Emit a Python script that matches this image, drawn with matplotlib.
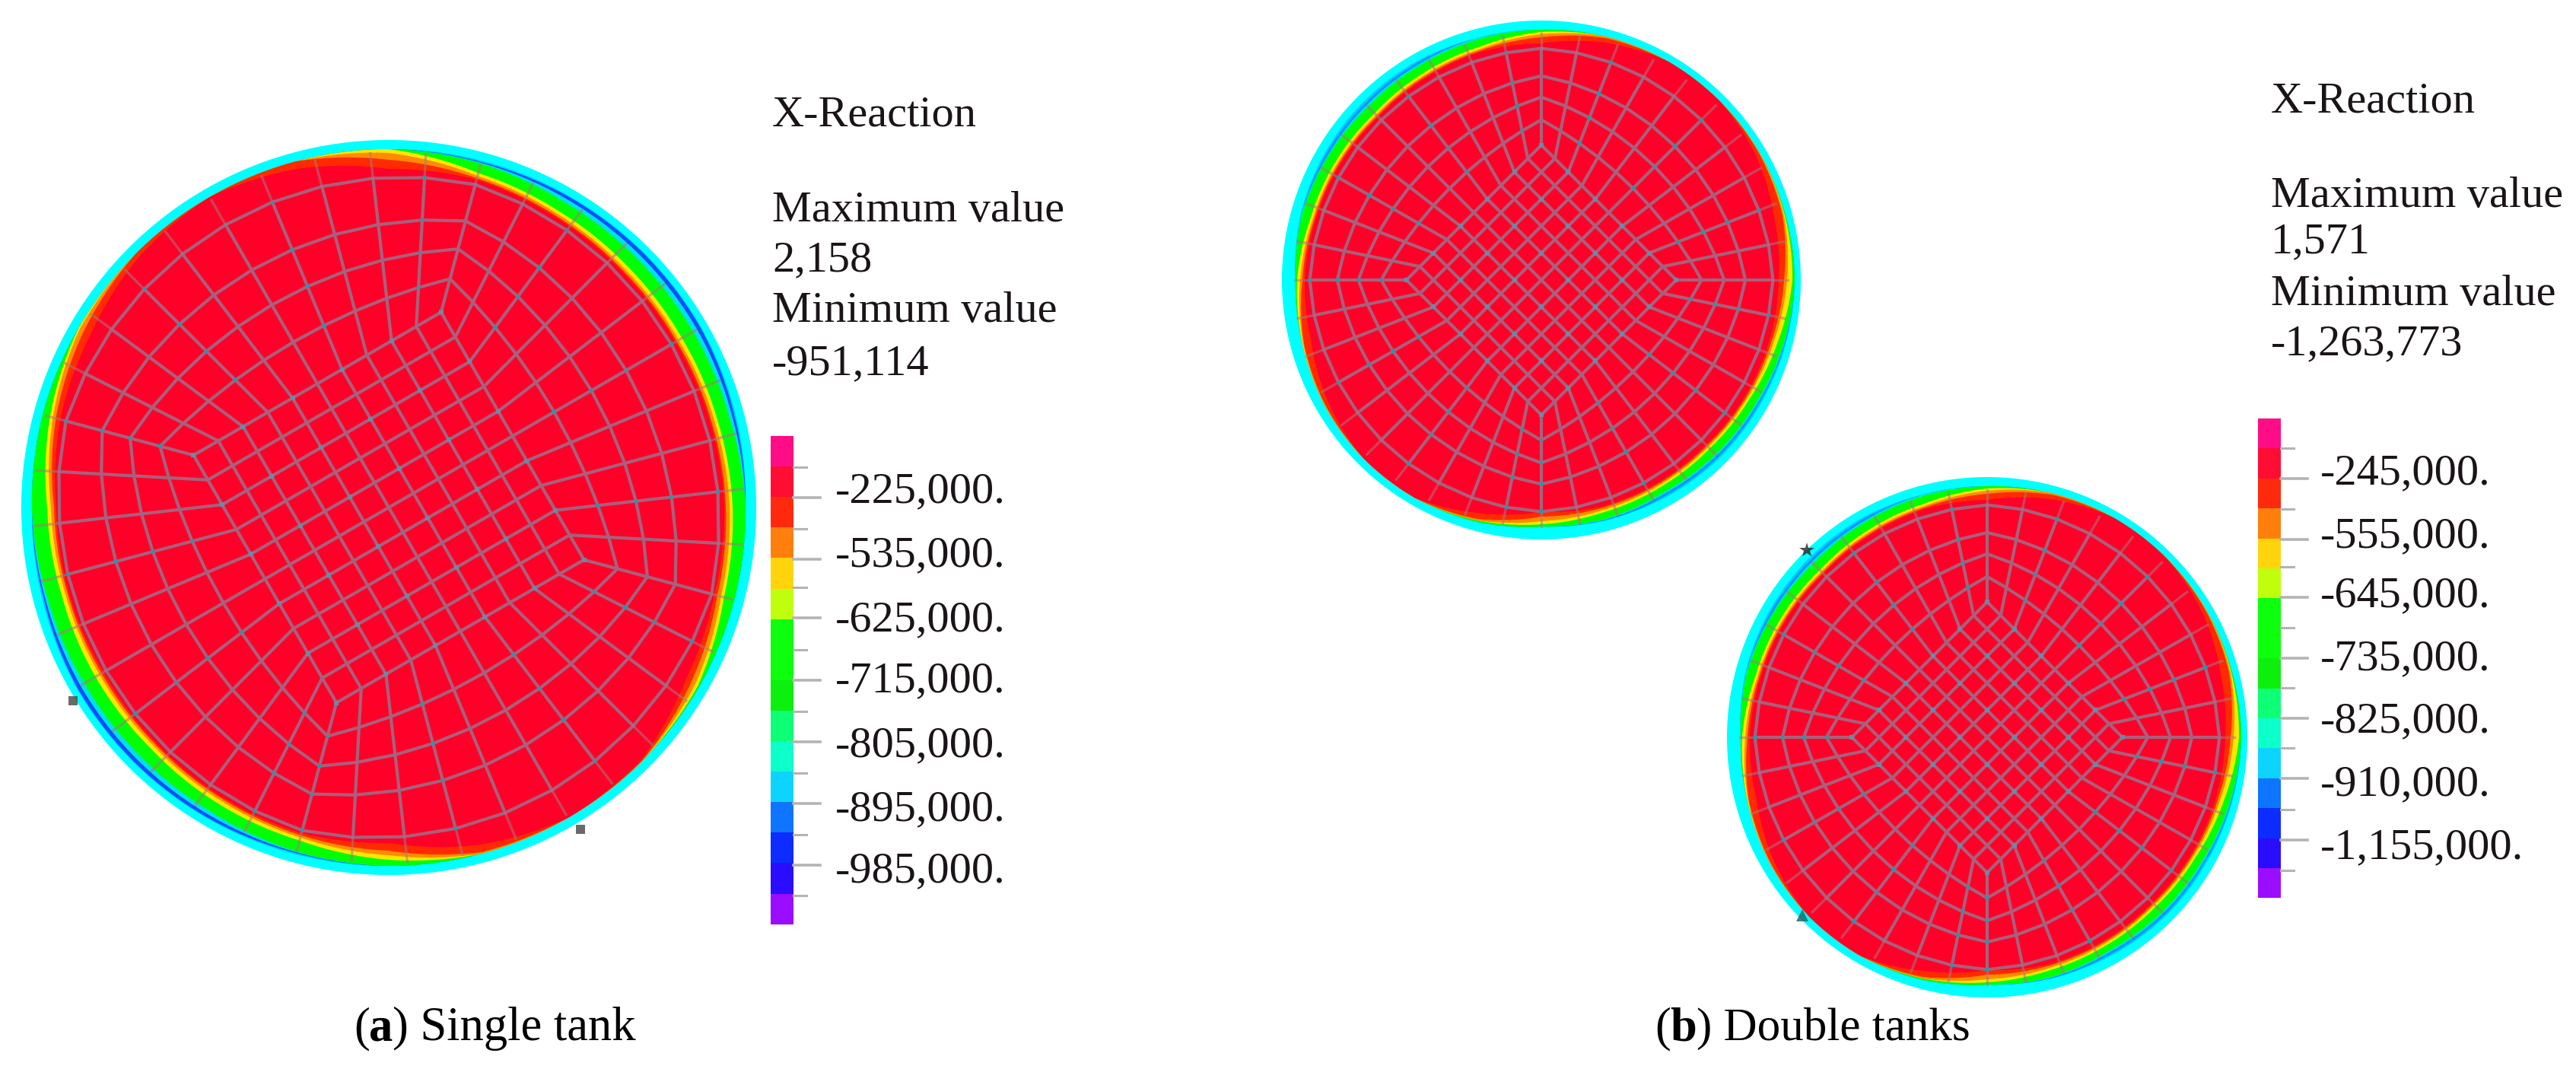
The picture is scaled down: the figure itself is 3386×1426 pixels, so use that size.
import numpy as np
import matplotlib
matplotlib.use("Agg")
import matplotlib.pyplot as plt

plt.rcParams['font.family'] = ['Liberation Serif', 'DejaVu Serif']

# contour depth from the rim, in px, read every 15 degrees (counter-clockwise from east)
angles = np.arange(0, 360, 15)

single_bands = {
    'sky':       [14, 11, 9, 9, 10, 11, 12, 12, 12, 12, 12, 12, 14, 12, 9, 9, 10, 11, 12, 12, 12, 12, 12, 13],
    'blue':      [14, 13, 10, 10, 11, 13, 12, 12, 12, 12, 12, 12, 14, 14, 10, 10, 11, 13, 12, 12, 12, 12, 12, 13],
    'turq':      [14, 16, 15, 15, 15, 14, 12, 12, 12, 12, 12, 12, 14, 16, 15, 15, 15, 14, 12, 12, 12, 12, 12, 13],
    'green':     [14, 20, 21, 21, 20, 15, 12, 12, 12, 12, 12, 12, 14, 19, 21, 21, 20, 15, 12, 12, 12, 12, 12, 13],
    'yellow':    [31, 36, 38, 37, 34, 28, 12, 12, 12, 12, 12, 22, 34, 38, 38, 38, 34, 30, 20, 12, 12, 12, 14, 27],
    'orange':    [35, 40, 43, 42, 38, 32, 17, 12, 12, 12, 14, 26, 39, 43, 44, 43, 39, 34, 26, 12, 12, 12, 18, 31],
    'redorange': [40, 44, 46, 45, 41, 35, 26, 12, 12, 12, 20, 30, 43, 46, 47, 46, 42, 37, 32, 14, 12, 12, 24, 36],
    'red':       [42, 46, 48, 47, 43, 37, 38, 22, 12, 18, 30, 36, 46, 48, 50, 48, 44, 40, 42, 24, 12, 14, 32, 40],
}
double_bands = {
    'sky':       [8, 9, 9, 9, 9, 10, 12, 12, 10, 10, 11, 13, 18, 16, 12, 10, 10, 12, 17, 14, 12, 10, 10, 9],
    'blue':      [8, 9, 9, 9, 9, 10, 12, 12, 12, 13, 13, 14, 18, 16, 12, 10, 10, 12, 17, 14, 14, 12, 12, 10],
    'turq':      [8, 9, 9, 9, 9, 10, 12, 12, 15, 16, 16, 14, 18, 16, 12, 10, 10, 12, 17, 15, 17, 15, 14, 11],
    'green':     [8, 9, 9, 9, 9, 10, 12, 14, 17, 19, 17, 15, 18, 16, 12, 10, 10, 12, 17, 16, 19, 17, 16, 12],
    'yellow':    [11, 10, 9, 9, 9, 10, 15, 24, 28, 31, 29, 27, 20, 16, 12, 10, 10, 14, 20, 25, 27, 28, 26, 20],
    'orange':    [18, 11, 9, 9, 9, 10, 18, 27, 31, 34, 32, 30, 24, 17, 12, 10, 10, 14, 24, 28, 30, 31, 29, 25],
    'redorange': [22, 13, 10, 9, 9, 12, 22, 29, 33, 36, 34, 32, 27, 18, 13, 10, 10, 16, 30, 31, 32, 33, 31, 28],
    'red':       [29, 24, 15, 9, 9, 18, 30, 31, 35, 38, 36, 34, 30, 28, 18, 10, 10, 24, 36, 33, 34, 35, 33, 31],
}

# colour bar segments, top to bottom
bar_colors = ['#ff0080', '#ff0028', '#ff1e00', '#ff7800', '#ffd200', '#bcff00',
              '#00ff00', '#00ff00', '#00f000', '#00ff6e', '#00ffc8', '#00d2ff',
              '#006eff', '#0020ff', '#1e00ff', '#9600ff']

single_labels = ['-225,000.', '-535,000.', '-625,000.', '-715,000.', '-805,000.', '-895,000.', '-985,000.']
double_labels = ['-245,000.', '-555,000.', '-645,000.', '-735,000.', '-825,000.', '-910,000.', '-1,155,000.']

single_info = ['X-Reaction', 'Maximum value', '2,158', 'Minimum value', '-951,114']
double_info = ['X-Reaction', 'Maximum value', '1,571', 'Minimum value', '-1,263,773']

band_colors = {'sky': '#00c8ff', 'blue': '#0050ff', 'turq': '#00e0e8', 'green': '#00ff00',
               'yellow': '#ffe600', 'orange': '#ff8c00', 'redorange': '#ff2a00', 'red': '#ff0028'}

# mesh layout: cells per side of the inner square and ring positions
n_cells = 10
ring_t = [0.227, 0.43, 0.62, 0.867, 1.0]

fig = plt.figure(figsize=(33.87, 14.26), dpi=100)
ax = fig.add_axes([0, 0, 1, 1])
ax.set_xlim(0, 3387)
ax.set_ylim(1426, 0)
ax.axis('off')


def draw_bands(cx, cy, r, bands, blue_col):
    th = np.arange(0, 360.5, 0.5)
    ang = np.append(angles, 360)

    def disk(depth, color):
        d = np.interp(th, ang, np.append(depth, depth[0]))
        rad = np.radians(th)
        ax.fill(cx + (r - d) * np.cos(rad), cy - (r - d) * np.sin(rad), color=color, lw=0, zorder=2)

    disk(np.zeros(24), '#00ffff')
    for name in ['sky', 'blue', 'turq', 'green', 'yellow', 'orange', 'redorange', 'red']:
        col = blue_col if name == 'blue' else band_colors[name]
        disk(np.array(bands[name], dtype=float), col)


def draw_mesh(cx, cy, r, rot, corner, outer):
    # inner square, corners on the compass points before rotation
    a = np.radians(45 + rot)
    c = corner * r / np.sqrt(2)
    u = np.linspace(-1, 1, n_cells + 1)
    uu, vv = np.meshgrid(u, u)
    gx = cx + c * (uu * np.cos(a) - vv * np.sin(a))
    gy = cy - c * (uu * np.sin(a) + vv * np.cos(a))

    # square boundary walked once round, matched to equal steps on the circle
    side = n_cells
    bi = ([(i, 0) for i in range(side)] + [(side, j) for j in range(side)] +
          [(side - i, side) for i in range(side)] + [(0, side - j) for j in range(side)])
    sq = np.array([[gx[j, i], gy[j, i]] for i, j in bi])
    start = np.arctan2(-(sq[0, 1] - cy), sq[0, 0] - cx)
    phi = start + np.arange(len(bi)) * 2 * np.pi / len(bi)
    circ = np.column_stack([cx + outer * r * np.cos(phi), cy - outer * r * np.sin(phi)])

    line = dict(color='#a8607c', lw=3.0, zorder=3, solid_capstyle='round')
    for k in range(n_cells + 1):
        ax.plot(gx[k, :], gy[k, :], **line)
        ax.plot(gx[:, k], gy[:, k], **line)

    layers = [sq]
    for t in ring_t:
        layers.append((1 - t) * sq + t * circ)
    layers = np.array(layers)
    # the outermost ring is not drawn, spokes just fade out over the rim bands
    for ring in layers[1:-1]:
        closed = np.vstack([ring, ring[:1]])
        ax.plot(closed[:, 0], closed[:, 1], **line)
    for s in range(layers.shape[1]):
        ax.plot(layers[:-1, s, 0], layers[:-1, s, 1], **line)
        ax.plot(layers[-2:, s, 0], layers[-2:, s, 1], color='#a8787c', lw=2.4, alpha=0.55, zorder=3)

    # node dots, grey-blue and teal in turn
    ax.plot(gx[::2, ::2].ravel(), gy[::2, ::2].ravel(), ls='none', marker='s', ms=3.8,
            color='#6a8aa5', mew=0, zorder=4)
    ax.plot(layers[1:-1, ::3, 0].ravel(), layers[1:-1, ::3, 1].ravel(), ls='none', marker='s', ms=3.4,
            color='#12a0b0', mew=0, zorder=4)


def draw_legend(x, bar_x, y_info, bar_top, bar_seg, ticks, label_y, label_x, info, labels):
    for txt, y in zip(info, y_info):
        ax.text(x, y, txt, fontsize=42, va='center', ha='left', color='#1a1418', zorder=6)
    for i, col in enumerate(bar_colors):
        ax.bar(bar_x + 15, bar_seg, width=30, bottom=bar_top + i * bar_seg, color=col, lw=0, alpha=0.95, zorder=5)
    step = (ticks[-1] - ticks[0]) / (len(ticks) - 1)
    for t in ticks:
        ax.plot([bar_x + 30, bar_x + 65], [t, t], color='#b4b4b4', lw=2.6, zorder=5)
        ax.plot([bar_x + 30, bar_x + 47], [t - step / 2] * 2, color='#b4b4b4', lw=2.2, zorder=5)
    ax.plot([bar_x + 30, bar_x + 47], [ticks[-1] + step / 2] * 2, color='#b4b4b4', lw=2.2, zorder=5)
    for txt, y in zip(labels, label_y):
        ax.text(label_x, y, txt, fontsize=42, va='center', ha='left', color='#1a1418', zorder=6)


def draw_glitch(x, y, marker, col='#303030', ms=9):
    ax.plot([x], [y], marker=marker, ms=ms, color=col, mew=0, alpha=0.85, zorder=5)


# single tank
draw_bands(511, 667, 483, single_bands, '#0050ff')
draw_mesh(511, 667, 483, -15, 0.55, 0.965)
draw_glitch(96, 921, 's', '#505050')
draw_glitch(763, 1090, 's', '#505050')
draw_legend(1015, 1013, [152, 277, 342, 409, 478], 573, 40.1,
            [654, 735, 812, 894, 975, 1056, 1137],
            [646, 730, 815, 895, 980, 1064, 1145], 1098, single_info, single_labels)

# double tanks
draw_bands(2026, 368, 341, double_bands, '#0096ff')
draw_mesh(2026, 368, 341, 0, 0.52, 0.95)
draw_bands(2612, 969, 342, double_bands, '#0096ff')
draw_mesh(2612, 969, 342, 0, 0.52, 0.95)
draw_glitch(2375, 723, '*', ms=15)
draw_glitch(2369, 1203, '^', '#206a70', ms=11)
draw_legend(2985, 2968, [133, 258, 318, 387, 452], 550, 39.4,
            [629, 709, 785, 865, 944, 1023, 1104],
            [622, 705, 783, 866, 948, 1031, 1114], 3050, double_info, double_labels)

# captions
ax.text(465, 1352, '(', fontsize=45, va='center', ha='left', color='black', zorder=6)
ax.text(485, 1352, 'a', fontsize=45, fontweight='bold', va='center', ha='left', color='black', zorder=6)
ax.text(516, 1352, ') Single tank', fontsize=45, va='center', ha='left', color='black', zorder=6)
ax.text(2175, 1352, '(', fontsize=45, va='center', ha='left', color='black', zorder=6)
ax.text(2195, 1352, 'b', fontsize=45, fontweight='bold', va='center', ha='left', color='black', zorder=6)
ax.text(2230, 1352, ') Double tanks', fontsize=44, va='center', ha='left', color='black', zorder=6)

fig.savefig('out.png', dpi=100, facecolor='white')
